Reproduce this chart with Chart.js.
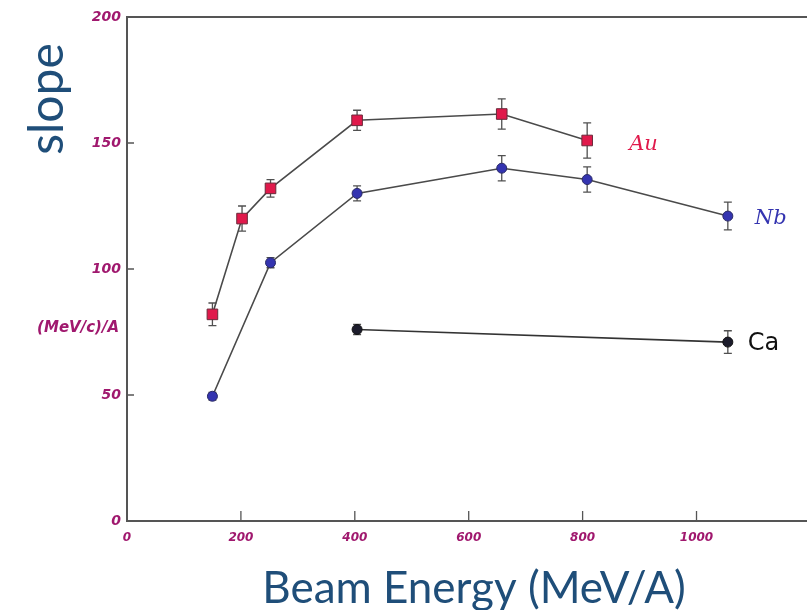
<!DOCTYPE html>
<html>
<head>
<meta charset="utf-8">
<script src="https://cdn.jsdelivr.net/npm/chart.js@4.4.1/dist/chart.umd.min.js"></script>
<style>
html,body{margin:0;padding:0;background:#fff;overflow:hidden;}
#wrap{position:relative;width:807px;height:610px;}
</style>
</head>
<body>
<div id="wrap"><canvas id="c" width="807" height="610"></canvas></div>
<script>
// ---- data ----
const xTicks = [0, 200, 400, 600, 800, 1000];
const yTicks = [0, 50, 100, 150, 200];

const energyAu = [150, 202, 252, 404, 658, 808];
const slopeAu  = [82, 120, 132, 159, 161.5, 151];
const errAu    = [4.5, 5, 3.5, 4, 6, 7];

const energyNb = [150, 252, 404, 658, 808, 1055];
const slopeNb  = [49.5, 102.5, 130, 140, 135.5, 121];
const errNb    = [1.5, 2, 3, 5, 5, 5.5];

const energyCa = [404, 1055];
const slopeCa  = [76, 71];
const errCa    = [2, 4.5];

const seriesNames = ['Au', 'Nb', 'Ca'];
const xTitle = 'Beam Energy (MeV/A)';
const yTitle = 'slope';
const yUnit = '(MeV/c)/A';

function pts(xs, ys) { return xs.map((x, i) => ({x: x, y: ys[i]})); }

const tickColor = '#a0186e';
const axisColor = '#555555';
const titleColor = '#1f4e79';

const errorBars = {
  id: 'errorBars',
  beforeDatasetsDraw(chart) {
    const ctx = chart.ctx;
    const xs = chart.scales.x, ys = chart.scales.y;
    chart.data.datasets.forEach(ds => {
      if (!ds.errors) return;
      ctx.save();
      ctx.strokeStyle = '#505050';
      ctx.lineWidth = 1.3;
      ds.data.forEach((p, i) => {
        const e = ds.errors[i];
        const px = xs.getPixelForValue(p.x);
        const top = ys.getPixelForValue(p.y + e);
        const bot = ys.getPixelForValue(p.y - e);
        ctx.beginPath();
        ctx.moveTo(px, top); ctx.lineTo(px, bot);
        ctx.moveTo(px - 4, top); ctx.lineTo(px + 4, top);
        ctx.moveTo(px - 4, bot); ctx.lineTo(px + 4, bot);
        ctx.stroke();
      });
      ctx.restore();
    });
  }
};

const frame = {
  id: 'frame',
  afterDraw(chart) {
    const ctx = chart.ctx;
    const a = chart.chartArea;
    const xs = chart.scales.x, ys = chart.scales.y;
    ctx.save();
    ctx.strokeStyle = axisColor;
    ctx.lineWidth = 2;
    ctx.beginPath();
    ctx.moveTo(a.left, a.top); ctx.lineTo(a.right, a.top);
    ctx.stroke();
    ctx.lineWidth = 1.3;
    ctx.beginPath();
    yTicks.forEach(v => {
      if (v === 0 || v === 200) return;
      const py = ys.getPixelForValue(v);
      ctx.moveTo(a.left, py); ctx.lineTo(a.left + 7, py);
    });
    xTicks.forEach(v => {
      if (v === 0) return;
      const px = xs.getPixelForValue(v);
      ctx.moveTo(px, a.bottom); ctx.lineTo(px, a.bottom - 10);
    });
    ctx.stroke();

    // series labels next to the last point of each series
    const labelStyle = [
      {font: 'italic 21px "DejaVu Serif"', color: '#e0194b', dx: 42, dy: 4},
      {font: 'italic 21px "DejaVu Serif"', color: '#3434b0', dx: 27, dy: 2},
      {font: '24px "DejaVu Sans"', color: '#111111', dx: 20, dy: 2}
    ];
    chart.data.datasets.forEach((ds, i) => {
      const last = ds.data[ds.data.length - 1];
      const px = xs.getPixelForValue(last.x);
      const py = ys.getPixelForValue(last.y);
      const s = labelStyle[i];
      ctx.font = s.font;
      ctx.fillStyle = s.color;
      ctx.textAlign = 'left';
      ctx.textBaseline = 'middle';
      ctx.fillText(ds.label, px + s.dx, py + s.dy);
    });

    // unit label
    ctx.font = 'bold italic 15px "DejaVu Sans"';
    ctx.fillStyle = tickColor;
    ctx.textAlign = 'right';
    ctx.textBaseline = 'middle';
    ctx.fillText(yUnit, a.left - 8, 328);

    // y title
    ctx.save();
    ctx.translate(63, 99);
    ctx.rotate(-Math.PI / 2);
    ctx.font = '48px Lato';
    ctx.fillStyle = titleColor;
    ctx.textAlign = 'center';
    ctx.textBaseline = 'alphabetic';
    ctx.fillText(yTitle, 0, 0);
    ctx.restore();

    // x title
    ctx.font = '44px Lato';
    ctx.fillStyle = titleColor;
    ctx.textAlign = 'center';
    ctx.textBaseline = 'alphabetic';
    ctx.fillText(xTitle, 474, 603);
    ctx.restore();
  }
};

const lineColor = '#4a4a4a';

new Chart(document.getElementById('c'), {
  type: 'scatter',
  data: {
    datasets: [
      {label: seriesNames[0], data: pts(energyAu, slopeAu), errors: errAu, showLine: true,
       borderColor: lineColor, borderWidth: 1.6, pointStyle: 'rect', pointRadius: 7.5,
       pointBackgroundColor: '#e0194b', pointBorderColor: '#6a2a3a', pointBorderWidth: 1},
      {label: seriesNames[1], data: pts(energyNb, slopeNb), errors: errNb, showLine: true,
       borderColor: lineColor, borderWidth: 1.6, pointStyle: 'circle', pointRadius: 5,
       pointBackgroundColor: '#3434b0', pointBorderColor: '#2a2a66', pointBorderWidth: 1},
      {label: seriesNames[2], data: pts(energyCa, slopeCa), errors: errCa, showLine: true,
       borderColor: '#333333', borderWidth: 1.6, pointStyle: 'circle', pointRadius: 5,
       pointBackgroundColor: '#1c1c2c', pointBorderColor: '#111111', pointBorderWidth: 1}
    ]
  },
  options: {
    responsive: false,
    animation: false,
    layout: {autoPadding: false, padding: {top: 17, left: 0, right: 0, bottom: 0}},
    plugins: {legend: {display: false}, tooltip: {enabled: false}},
    scales: {
      x: {
        type: 'linear', min: 0, max: 1194,
        afterBuildTicks(scale) { scale.ticks = xTicks.map(v => ({value: v})); },
        afterFit(scale) { scale.height = 89; },
        grid: {display: false, drawTicks: false},
        border: {display: true, color: axisColor, width: 2},
        ticks: {padding: 10, color: tickColor, font: {family: 'DejaVu Sans', style: 'italic', weight: 'bold', size: 12},
                callback: v => String(v)}
      },
      y: {
        type: 'linear', min: 0, max: 200,
        afterBuildTicks(scale) { scale.ticks = yTicks.map(v => ({value: v})); },
        afterFit(scale) { scale.width = 127; },
        grid: {display: false, drawTicks: false},
        border: {display: true, color: axisColor, width: 2},
        ticks: {padding: 6, color: tickColor, font: {family: 'DejaVu Sans', style: 'italic', weight: 'bold', size: 14},
                callback: v => String(v)}
      }
    }
  },
  plugins: [errorBars, frame]
});
</script>
</body>
</html>
